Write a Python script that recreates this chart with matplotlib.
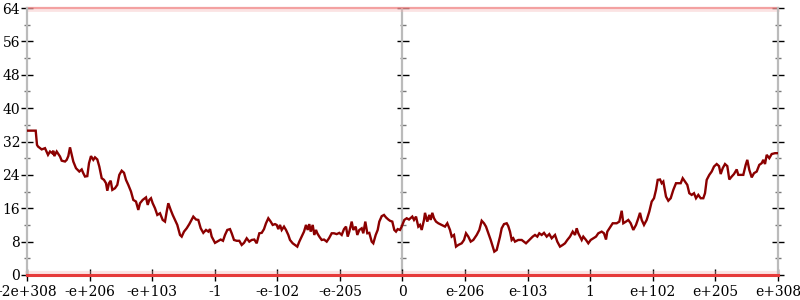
import matplotlib
matplotlib.use("Agg")
import matplotlib.pyplot as plt
from matplotlib.ticker import MultipleLocator, NullFormatter

# x positions (horizontal position along the axis, 0 .. 751 span) and values
pos = [0, 8.7, 10, 11, 14.7, 18, 21, 23, 25.3, 26.3, 27.3, 29.7, 33, 34.7, 38, 39.7, 41.3, 43, 44.7, 46.3,
       49, 52.3, 54.7, 56.3, 58, 60.3, 62, 64, 66.3, 68, 70.3, 72.3, 74.7, 77, 79, 80.3, 82, 83.7, 85.3, 88,
       90.3, 92.3, 94.7, 97, 99, 101.3, 104, 106.3, 109, 111.3, 113, 115.7, 119, 120.7, 122.3, 124, 125.7, 128,
       130.3, 133, 135.7, 138, 139.7, 141.3, 143.7, 145.7, 148, 150.3, 153, 154.7, 157, 159.7, 162.3, 164.7,
       166.3, 169, 171.3, 173.7, 176.3, 179, 181.3, 183, 184.7, 188,
       193.7, 196, 198, 200.3, 203, 204.7, 207, 209.7, 212.3, 214.7, 217, 219.7, 222.3, 224.7, 227.3, 229.7,
       232.3, 234.7, 237, 239, 241.3, 243.7, 245.7, 248, 249.7, 251.3, 253, 254.7, 257, 259, 261.3, 263, 265.7,
       268, 270.3, 272.3, 274.7, 277, 279, 280.7, 282.3, 283.7, 285.7, 287.3, 289, 290.3, 292.3, 294.7, 297,
       299.7, 302, 304.7, 307, 309.7, 312.3, 314.7, 317, 319, 320.7, 322.3, 324.7, 326.3, 328.7, 330.3, 332.3,
       334.7, 336.3, 338.3, 340.3, 342.3, 344.7, 346.3, 348.7, 350.7, 352.3, 354.7, 357, 359, 361.3, 363, 365.3,
       367.3, 369, 370.7, 373, 374.7, 377.3, 379.7, 382,
       385.3, 387, 389, 391.3, 393, 394.7, 397, 398, 400.3, 402.3, 403.7, 405.3, 407, 409, 411.3, 414.7, 418,
       420.3, 423, 424.7, 427, 429, 431.3, 434.7, 437, 439, 441.3, 443.7, 446.3, 449.7, 452.3, 454.7, 457, 459,
       461.3, 463.7, 465.7, 467.3, 469.7, 471.3, 473, 474.7, 477, 479.7, 481.3, 483, 484.7, 486.3, 488, 491.3,
       494.7, 499, 502.3, 505.7, 508, 510.3, 512.3, 514.7, 517, 519.7, 522.3, 524.7, 528, 530.3, 533, 535.7,
       538, 540.3, 543, 545.7, 548, 549.7, 551.3, 553, 554.7, 556.3, 559, 561.3, 563.7, 566.3, 569, 571.3,
       574.7, 577, 579, 580.3, 583, 585.7, 589.7, 592.3, 594.7, 596.3, 599, 601.3, 603.7, 606.3, 609, 611.3,
       613, 614.7, 617, 619.7, 622.3, 624.7, 627, 629, 630.7, 633, 634.7, 636.3, 639, 641.3, 643.7, 646.3, 649,
       651.3, 653.7, 655.7, 658, 660.3, 662.3, 664.7, 667, 669, 671.3, 673.7, 676.3, 678, 679.7, 682.3, 684.7,
       687, 689.7, 692, 693.7, 695.7, 698, 700.3, 702.3, 704.7, 707, 709.7, 711.3, 713.7, 716.3, 718.7, 720.3,
       722.3, 724.7, 727, 729.7, 732.3, 734.7, 736.3, 738, 739.7, 742.3, 744.7, 748, 751]

values = [34.6, 34.6, 31.2, 30.8, 30.1, 30.4, 28.8, 29.6, 29.2, 29.8, 28.5, 29.6, 28.4, 27.4, 27.2, 27.6, 28.5, 30.6, 28.8, 27.2,
          25.6, 24.8, 25.3, 24.4, 23.6, 23.7, 26.8, 28.5, 27.6, 28.2, 27.7, 26.0, 23.2, 22.8, 22.0, 20.2, 22.0, 22.6, 20.4, 20.8,
          21.6, 24.0, 25.0, 24.5, 22.8, 21.6, 20.0, 18.0, 17.6, 15.6, 17.2, 18.0, 18.6, 16.8, 18.0, 18.4, 17.2, 16.0,
          14.4, 14.8, 13.2, 12.8, 15.2, 17.2, 15.6, 14.4, 13.2, 12.0, 9.6, 9.2, 10.4, 11.2, 12.2, 13.3,
          14.0, 13.3, 13.2, 11.2, 10.1, 10.8, 10.4, 11.0, 9.2, 7.7,
          8.5, 8.2, 9.6, 10.8, 11.0, 10.0, 8.4, 8.2, 8.2, 7.2, 7.7, 8.8, 8.0, 8.4, 8.5, 7.6,
          10.0, 10.1, 11.0, 12.4, 13.6, 12.8, 12.0, 12.2, 12.0, 11.0, 12.0, 10.8, 11.6, 10.8, 9.6, 8.4, 7.6,
          7.2, 6.8, 8.0, 9.2, 10.4, 12.0, 10.8, 12.2, 10.4, 12.0, 9.6, 10.8, 10.0, 9.2, 8.4, 8.5,
          8.0, 8.8, 10.0, 10.0, 9.8, 10.1, 9.6, 11.0, 11.6, 9.2, 10.4, 12.8, 10.8, 11.6, 9.6, 10.8,
          11.2, 10.0, 12.8, 10.0, 10.1, 8.0, 7.6, 9.6, 10.8, 12.8, 14.1, 14.4, 13.8, 13.3, 13.0, 12.8,
          10.8, 10.4, 11.0, 10.8, 11.6, 13.2, 13.6, 13.3,
          14.0, 13.2, 14.0, 11.6, 12.0, 10.8, 13.2, 14.9, 12.8, 14.4, 13.2, 14.9, 13.6, 12.8, 12.4, 12.0, 11.6,
          12.4, 10.8, 9.2, 9.6, 6.8, 7.2, 7.6, 8.4, 10.0, 9.2, 8.0, 8.4, 9.6, 10.8, 13.0, 12.4, 11.6,
          10.0, 8.4, 6.8, 5.6, 6.0, 7.6, 9.2, 11.2, 12.2, 12.4, 11.7, 10.4, 8.4, 8.8, 8.0, 8.4,
          8.4, 7.6, 8.4, 9.2, 9.6, 9.2, 10.0, 9.6, 10.1, 9.2, 9.8, 8.8, 9.6, 8.0, 6.8, 7.2,
          7.6, 8.4, 9.2, 10.4, 9.6, 11.2, 10.0, 9.2, 8.4, 9.2, 8.4, 7.6, 8.4, 8.8, 9.2, 10.0,
          10.4, 10.0, 8.5, 10.4, 11.4, 12.4, 12.4, 12.8, 15.4, 12.4, 12.8, 13.2, 12.4, 10.8, 12.0, 13.6,
          14.9, 13.2, 12.0, 13.2, 15.2, 17.6, 18.4, 20.4, 22.8, 22.9, 22.0, 22.4, 18.8, 17.8, 18.4, 20.4, 22.0,
          22.0, 22.0, 23.2, 22.4, 21.6, 19.6, 19.2, 19.6, 18.4, 19.2, 18.4, 18.4, 19.6, 22.8, 24.0, 24.8,
          26.0, 26.6, 26.1, 24.2, 25.6, 26.6, 26.1, 22.9, 23.6, 24.2, 25.3, 24.0, 24.0, 24.0, 26.4, 27.6,
          25.2, 23.4, 24.4, 24.8, 26.4, 26.8, 27.6, 26.6, 28.8, 28.0, 29.0, 29.2, 29.2]

tick_labels = ["-2e+308", "-e+206", "-e+103", "-1", "-e-102", "-e-205", "0",
               "e-206", "e-103", "1", "e+102", "e+205", "e+308"]
x_span = 751
y_max = 64

plt.rcParams['font.family'] = ['DejaVu Serif']

fig = plt.figure(figsize=(8, 3), dpi=100)
ax = fig.add_axes([27/800, 25/300, 751/800, 267/300])
ax.set_xlim(0, x_span)
ax.set_ylim(0, y_max)

# boundary bands
ax.axhline(y_max, color='#f08a8a', lw=1.6, alpha=0.8, clip_on=False, zorder=2)
ax.axhline(y_max - 0.5, color='#f5b0b0', lw=2.0, alpha=0.35, clip_on=False, zorder=2)
ax.axhline(0.5, color='#f5b0b0', lw=3.0, alpha=0.35, clip_on=False, zorder=2)
ax.axhline(0, color='#e63a3a', lw=2.2, clip_on=False, zorder=3)

# center axis line
ax.axvline(x_span / 2, color='#bbbbbb', lw=1.6, zorder=1)

ax.plot(pos, values, color='#8b0000', lw=1.7, zorder=4, solid_joinstyle='miter')

for s in ['top', 'bottom']:
    ax.spines[s].set_visible(False)
for s in ['left', 'right']:
    ax.spines[s].set_color('#bbbbbb')
    ax.spines[s].set_linewidth(1.6)

ax.yaxis.set_major_locator(MultipleLocator(8))
ax.yaxis.set_minor_locator(MultipleLocator(4))
ax.tick_params(axis='y', which='major', direction='inout', length=8, width=1.0,
               color='black', left=True, right=True, labelright=False, labelsize=10, pad=1)
ax.tick_params(axis='y', which='minor', direction='inout', length=5, width=1.0,
               color='#777777', left=True, right=True)

xt = [x_span * i / 12 for i in range(13)]
ax.set_xticks(xt)
ax.set_xticklabels(tick_labels)
ax.tick_params(axis='x', which='major', direction='inout', length=8, width=1.0,
               color='black', labelsize=10, pad=3)

# center axis ticks
sec = ax.secondary_yaxis(0.5)
for s in sec.spines.values():
    s.set_visible(False)
sec.yaxis.set_major_locator(MultipleLocator(8))
sec.yaxis.set_minor_locator(MultipleLocator(4))
sec.yaxis.set_major_formatter(NullFormatter())
sec.tick_params(which='major', direction='inout', length=8, width=1.0, color='black',
                labelleft=False, labelright=False)
sec.tick_params(which='minor', direction='inout', length=5, width=1.0, color='#777777')

fig.savefig('out.png', dpi=100)
